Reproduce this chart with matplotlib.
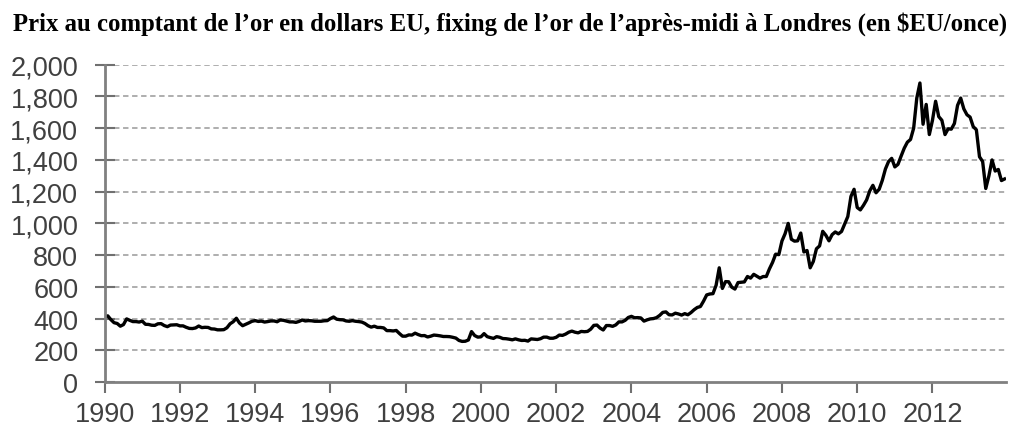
import matplotlib.pyplot as plt
import numpy as np
from matplotlib.ticker import FuncFormatter

# Monthly London PM gold fix (USD/oz), Jan..Dec
years = list(range(1990, 2014))
monthly_prices = [
    [412, 417, 393, 374, 369, 352, 362, 398, 389, 381, 381, 378],  # 1990
    [384, 364, 363, 358, 357, 367, 368, 356, 349, 359, 360, 361],  # 1991
    [354, 354, 345, 338, 337, 341, 353, 343, 345, 344, 335, 334],  # 1992
    [329, 329, 330, 342, 367, 380, 402, 372, 355, 364, 373, 383],  # 1993
    [387, 382, 384, 378, 381, 385, 385, 380, 391, 389, 384, 379],  # 1994
    [379, 376, 382, 391, 385, 387, 386, 383, 383, 383, 386, 387],  # 1995
    [400, 410, 396, 393, 392, 385, 383, 387, 383, 381, 378, 369],  # 1996
    [355, 346, 352, 344, 344, 341, 324, 324, 322, 325, 306, 289],  # 1997
    [289, 297, 296, 308, 299, 292, 293, 284, 289, 296, 294, 291],  # 1998
    [287, 287, 286, 282, 277, 262, 256, 257, 265, 318, 293, 283],  # 1999
    [285, 305, 286, 280, 275, 286, 282, 274, 273, 270, 266, 272],  # 2000
    [266, 262, 263, 258, 272, 270, 268, 273, 283, 283, 276, 276],  # 2001
    [282, 296, 294, 302, 314, 321, 314, 310, 319, 317, 319, 333],  # 2002
    [357, 359, 340, 328, 356, 356, 351, 360, 379, 379, 389, 407],  # 2003
    [414, 405, 406, 404, 384, 392, 398, 400, 406, 420, 439, 442],  # 2004
    [424, 423, 434, 429, 422, 431, 424, 438, 456, 470, 476, 510],  # 2005
    [549, 555, 557, 610, 720, 590, 633, 632, 598, 586, 627, 629],  # 2006
    [631, 665, 655, 679, 667, 655, 665, 665, 713, 754, 806, 803],  # 2007
    [889, 935, 1000, 900, 888, 890, 939, 820, 829, 720, 760, 840],  # 2008
    [858, 950, 925, 890, 929, 946, 934, 949, 996, 1043, 1170, 1215],  # 2009
    [1100, 1085, 1114, 1148, 1205, 1240, 1193, 1215, 1271, 1343, 1390, 1410],  # 2010
    [1356, 1372, 1424, 1474, 1512, 1529, 1600, 1790, 1885, 1625, 1750, 1560],  # 2011
    [1650, 1770, 1673, 1650, 1560, 1596, 1594, 1630, 1744, 1790, 1722, 1685],  # 2012
    [1670, 1610, 1590, 1420, 1390, 1220, 1300, 1400, 1330, 1340, 1270, 1280],  # 2013
]

x_ticks = list(range(1990, 2013, 2))
y_ticks = list(range(0, 2001, 200))

title = ("Prix au comptant de l\u2019or en dollars EU, fixing de l\u2019or "
         "de l\u2019apr\u00e8s-midi \u00e0 Londres (en $EU/once)")

t = np.array([y + m / 12 for y in years for m in range(12)])
price = np.array([v for row in monthly_prices for v in row])

fig = plt.figure(figsize=(10.16, 4.27), dpi=100)
ax = fig.add_axes([0.103, 0.103, 0.887, 0.743])

ax.plot(t, price, color="black", lw=2.4, solid_joinstyle="round")

ax.set_xlim(1990, 2013.95)
ax.set_ylim(0, 2000)
ax.set_xticks(x_ticks)
ax.set_yticks(y_ticks)
ax.yaxis.set_major_formatter(FuncFormatter(lambda v, p: f"{int(v):,}"))

for v in y_ticks[1:]:
    ax.axhline(v, color="#a8a8a8", lw=1.3, ls=(0, (3, 2)), zorder=0)

for side in ("top", "right"):
    ax.spines[side].set_visible(False)
for side in ("left", "bottom"):
    ax.spines[side].set_color("#808080")
    ax.spines[side].set_linewidth(2)

ax.tick_params(axis="y", direction="inout", length=14, width=1.5, color="#707070",
               labelsize=19.5, labelcolor="#404040", pad=12)
ax.tick_params(axis="x", direction="out", length=8, width=1.5, color="#707070",
               labelsize=19.5, labelcolor="#404040", pad=6)
for lab in ax.get_xticklabels() + ax.get_yticklabels():
    lab.set_family("Liberation Sans")

fig.text(0.502, 0.944, title, ha="center", va="center",
         family="Liberation Serif", weight="bold", fontsize=17.8)

fig.savefig("out.png", dpi=100)
plt.close(fig)
